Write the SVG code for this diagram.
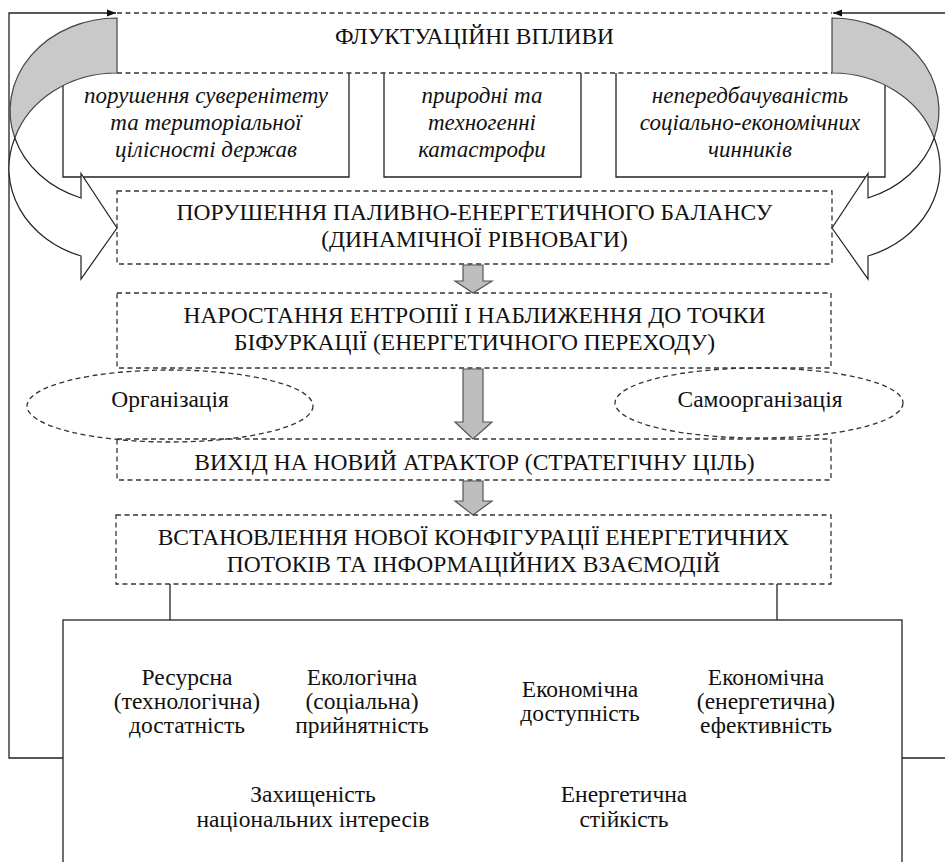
<svg xmlns="http://www.w3.org/2000/svg" width="945" height="862" viewBox="0 0 945 862">
<defs>
<marker id="ah" viewBox="0 0 10 10" refX="10" refY="5" markerWidth="9" markerHeight="9" markerUnits="userSpaceOnUse" orient="auto">
<path d="M0,1 L10,5 L0,9 Z" fill="#111"/>
</marker>
<path id="curv-back" d="M117,18 A107,92.7 0 0 0 14.8,138 A107,92.7 0 0 1 117,73 Z" fill="#c9c9c9" stroke="#444" stroke-width="1.2"/>
<path id="curv-front" d="M14.8,138 A107,92.7 0 0 0 81,198 L81,173.5 L117,228 L81,279 L81,256 A107,92.7 0 0 1 14.8,138 Z" fill="#fff" stroke="#222" stroke-width="1.2"/>
</defs>
<rect width="945" height="862" fill="#fff"/>

<g id="connectors" fill="none" stroke="#222" stroke-width="1.3">
<polyline points="63,758 9,758 9,13 116,13" marker-end="url(#ah)"/>
<polyline points="945,13 833,13" marker-end="url(#ah)"/>
<line x1="902" y1="758" x2="945" y2="758"/>
<line x1="170" y1="584" x2="170" y2="620"/>
<line x1="777" y1="584" x2="777" y2="620"/>
</g>

<g id="sub-left" font-family="Liberation Serif" font-size="23" font-style="italic" fill="#111" text-anchor="middle">
<path d="M63,73 V177 H349 V73" fill="none" stroke="#222" stroke-width="1.3"/>
<text x="206" y="103" font-family="Liberation Serif" style="font-family:'Liberation Serif'">порушення суверенітету</text>
<text x="206" y="130" font-family="Liberation Serif" style="font-family:'Liberation Serif'">та територіальної</text>
<text x="206" y="157" font-family="Liberation Serif" style="font-family:'Liberation Serif'">цілісності держав</text>
</g>
<g id="sub-mid" font-family="Liberation Serif" font-size="23" font-style="italic" fill="#111" text-anchor="middle">
<path d="M384,73 V177 H581 V73" fill="none" stroke="#222" stroke-width="1.3"/>
<text x="482" y="103" font-family="Liberation Serif" style="font-family:'Liberation Serif'">природні та</text>
<text x="482" y="130" font-family="Liberation Serif" style="font-family:'Liberation Serif'">техногенні</text>
<text x="482" y="157" font-family="Liberation Serif" style="font-family:'Liberation Serif'">катастрофи</text>
</g>
<g id="sub-right" font-family="Liberation Serif" font-size="23" font-style="italic" fill="#111" text-anchor="middle">
<path d="M616,73 V177 H885 V73" fill="none" stroke="#222" stroke-width="1.3"/>
<text x="750" y="103" font-family="Liberation Serif" style="font-family:'Liberation Serif'">непередбачуваність</text>
<text x="750" y="130" font-family="Liberation Serif" style="font-family:'Liberation Serif'">соціально-економічних</text>
<text x="750" y="157" font-family="Liberation Serif" style="font-family:'Liberation Serif'">чинників</text>
</g>

<g id="fluct" font-family="Liberation Serif" font-size="23.5" fill="#111" text-anchor="middle">
<line x1="117" y1="13" x2="832" y2="13" stroke="#333" stroke-width="1.3" stroke-dasharray="5 3.5"/>
<line x1="117" y1="73" x2="832" y2="73" stroke="#333" stroke-width="1.3" stroke-dasharray="5 3.5"/>
<text x="474.5" y="44" font-family="Liberation Serif" style="font-family:'Liberation Serif'">ФЛУКТУАЦІЙНІ ВПЛИВИ</text>
</g>

<g id="curved-left">
<use href="#curv-back"/>
<use href="#curv-front"/>
</g>
<g id="curved-right" transform="translate(949,0) scale(-1,1)">
<use href="#curv-back"/>
<use href="#curv-front"/>
</g>

<g id="balance" font-family="Liberation Serif" font-size="23.5" fill="#111" text-anchor="middle">
<rect x="117" y="191" width="715" height="73" fill="none" stroke="#333" stroke-width="1.3" stroke-dasharray="5 3.5"/>
<text x="474.5" y="220" font-family="Liberation Serif" style="font-family:'Liberation Serif'">ПОРУШЕННЯ ПАЛИВНО-ЕНЕРГЕТИЧНОГО БАЛАНСУ</text>
<text x="474.5" y="247" font-family="Liberation Serif" style="font-family:'Liberation Serif'">(ДИНАМІЧНОЇ РІВНОВАГИ)</text>
</g>

<g id="arrow1"><path d="M463,265 H483 V281 H492 L473,293 L455,281 H463 Z" fill="#bdbdbd" stroke="#555" stroke-width="1.2"/></g>

<g id="entropy" font-family="Liberation Serif" font-size="23.5" fill="#111" text-anchor="middle">
<rect x="117" y="293" width="714" height="75" fill="none" stroke="#333" stroke-width="1.3" stroke-dasharray="5 3.5"/>
<text x="474.5" y="323" font-family="Liberation Serif" style="font-family:'Liberation Serif'">НАРОСТАННЯ ЕНТРОПІЇ І НАБЛИЖЕННЯ ДО ТОЧКИ</text>
<text x="474.5" y="350" font-family="Liberation Serif" style="font-family:'Liberation Serif'">БІФУРКАЦІЇ (ЕНЕРГЕТИЧНОГО ПЕРЕХОДУ)</text>
</g>

<g id="arrow2"><path d="M463,369 H483 V422 H492 L473,439 L455,422 H463 Z" fill="#bdbdbd" stroke="#555" stroke-width="1.2"/></g>

<g id="org" font-family="Liberation Serif" font-size="23.5" fill="#111" text-anchor="middle">
<ellipse cx="170" cy="406" rx="143" ry="36" fill="none" stroke="#333" stroke-width="1.3" stroke-dasharray="5 3.5"/>
<text x="170" y="407" font-family="Liberation Serif" style="font-family:'Liberation Serif'">Організація</text>
</g>
<g id="selforg" font-family="Liberation Serif" font-size="23.5" fill="#111" text-anchor="middle">
<ellipse cx="759" cy="403" rx="144" ry="35" fill="none" stroke="#333" stroke-width="1.3" stroke-dasharray="5 3.5"/>
<text x="760" y="407" font-family="Liberation Serif" style="font-family:'Liberation Serif'">Самоорганізація</text>
</g>

<g id="attractor" font-family="Liberation Serif" font-size="23.5" fill="#111" text-anchor="middle">
<rect x="117" y="439" width="714" height="41" fill="none" stroke="#333" stroke-width="1.3" stroke-dasharray="5 3.5"/>
<text x="474.5" y="470" font-family="Liberation Serif" style="font-family:'Liberation Serif'">ВИХІД НА НОВИЙ АТРАКТОР (СТРАТЕГІЧНУ ЦІЛЬ)</text>
</g>

<g id="arrow3"><path d="M463,481 H483 V501 H492 L473,515 L455,501 H463 Z" fill="#bdbdbd" stroke="#555" stroke-width="1.2"/></g>

<g id="config" font-family="Liberation Serif" font-size="23.5" fill="#111" text-anchor="middle">
<rect x="116" y="515" width="715" height="69" fill="none" stroke="#333" stroke-width="1.3" stroke-dasharray="5 3.5"/>
<text x="473.5" y="545" font-family="Liberation Serif" style="font-family:'Liberation Serif'">ВСТАНОВЛЕННЯ НОВОЇ КОНФІГУРАЦІЇ ЕНЕРГЕТИЧНИХ</text>
<text x="473.5" y="572" font-family="Liberation Serif" style="font-family:'Liberation Serif'">ПОТОКІВ ТА ІНФОРМАЦІЙНИХ ВЗАЄМОДІЙ</text>
</g>

<g id="criteria" font-family="Liberation Serif" font-size="23.5" fill="#111" text-anchor="middle">
<rect x="63" y="620" width="839" height="260" fill="none" stroke="#222" stroke-width="1.3"/>
<text x="187" y="685" font-family="Liberation Serif" style="font-family:'Liberation Serif'">Ресурсна</text>
<text x="187" y="709" font-family="Liberation Serif" style="font-family:'Liberation Serif'">(технологічна)</text>
<text x="187" y="733" font-family="Liberation Serif" style="font-family:'Liberation Serif'">достатність</text>
<text x="362" y="685" font-family="Liberation Serif" style="font-family:'Liberation Serif'">Екологічна</text>
<text x="362" y="709" font-family="Liberation Serif" style="font-family:'Liberation Serif'">(соціальна)</text>
<text x="362" y="733" font-family="Liberation Serif" style="font-family:'Liberation Serif'">прийнятність</text>
<text x="580" y="697" font-family="Liberation Serif" style="font-family:'Liberation Serif'">Економічна</text>
<text x="580" y="721" font-family="Liberation Serif" style="font-family:'Liberation Serif'">доступність</text>
<text x="766" y="685" font-family="Liberation Serif" style="font-family:'Liberation Serif'">Економічна</text>
<text x="766" y="709" font-family="Liberation Serif" style="font-family:'Liberation Serif'">(енергетична)</text>
<text x="766" y="733" font-family="Liberation Serif" style="font-family:'Liberation Serif'">ефективність</text>
<text x="313" y="802" font-family="Liberation Serif" style="font-family:'Liberation Serif'">Захищеність</text>
<text x="313" y="827" font-family="Liberation Serif" style="font-family:'Liberation Serif'">національних інтересів</text>
<text x="624" y="802" font-family="Liberation Serif" style="font-family:'Liberation Serif'">Енергетична</text>
<text x="624" y="827" font-family="Liberation Serif" style="font-family:'Liberation Serif'">стійкість</text>
</g>
</svg>
